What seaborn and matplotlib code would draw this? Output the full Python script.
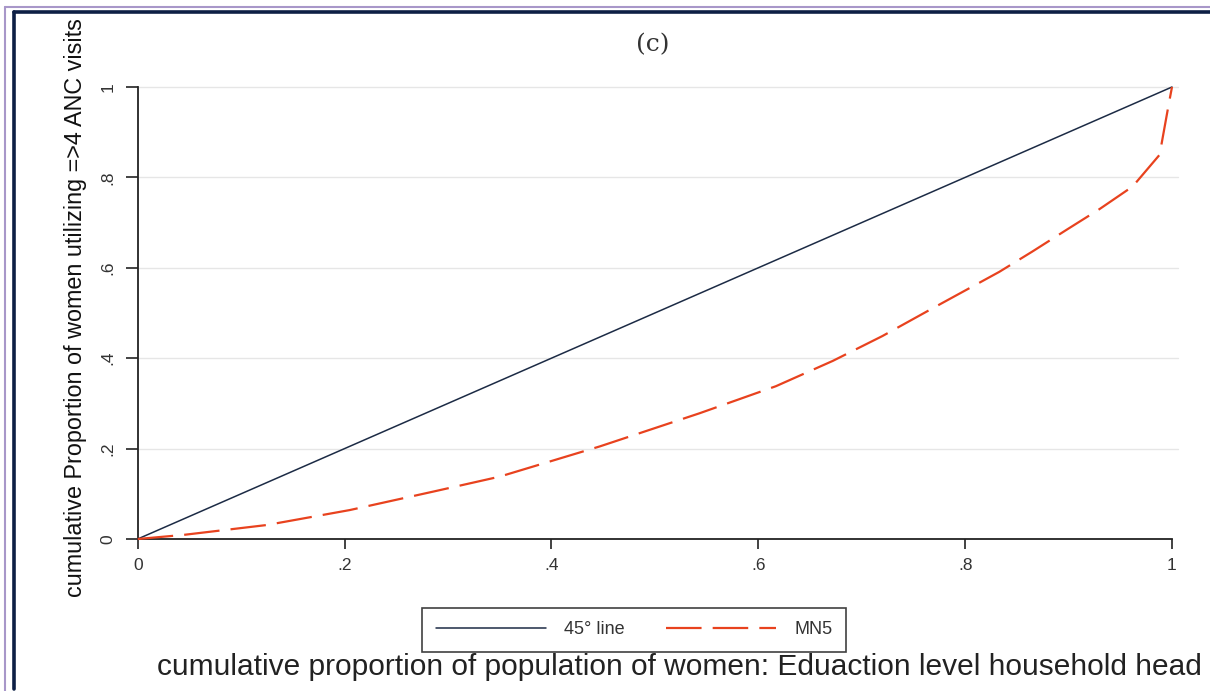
import numpy as np
import pandas as pd
import matplotlib
matplotlib.use("Agg")
import matplotlib.pyplot as plt
from matplotlib.lines import Line2D
import seaborn as sns

# Concentration curve data
pop_share = [0, 0.044, 0.125, 0.205, 0.286, 0.35, 0.447, 0.543, 0.617, 0.672,
             0.72, 0.769, 0.801, 0.833, 0.865, 0.898, 0.93, 0.962, 0.988, 0.997, 1.0]
mn5_share = [0, 0.009, 0.031, 0.064, 0.105, 0.138, 0.205, 0.278, 0.338, 0.394,
             0.449, 0.511, 0.551, 0.591, 0.636, 0.684, 0.73, 0.78, 0.85, 0.964, 1.0]
equality_x = [0, 1]
equality_y = [0, 1]

tick_vals = [0, 0.2, 0.4, 0.6, 0.8, 1]
tick_labels = ["0", ".2", ".4", ".6", ".8", "1"]

series_names = ["45° line", "MN5"]
title = "(c)"
xlabel = "cumulative proportion of population of women: Eduaction level household head"
ylabel = "cumulative Proportion of women utilizing =>4 ANC visits"

sns.set_style("white")
plt.rcParams["font.family"] = ["Liberation Sans", "DejaVu Sans"]

fig = plt.figure(figsize=(12.1, 6.91), dpi=100)
W, H = 1210, 691
ax = fig.add_axes([137.7 / W, 1 - 539 / H, (1172 - 137.7) / W, (539 - 87) / H])

navy = "#1c2b45"
red = "#e8421e"

eq_df = pd.DataFrame({"x": equality_x, "y": equality_y})
mn_df = pd.DataFrame({"x": pop_share, "y": mn5_share})

sns.lineplot(data=eq_df, x="x", y="y", ax=ax, color=navy, linewidth=1.1,
             label=series_names[0], clip_on=False, zorder=3)
sns.lineplot(data=mn_df, x="x", y="y", ax=ax, color=red, linewidth=1.6,
             label=series_names[1], clip_on=False, zorder=3,
             dashes=False)
ax.lines[1].set_dashes([16, 5])

ax.set_xlim(0, 1)
ax.set_ylim(0, 1)
ax.set_xticks(tick_vals)
ax.set_xticklabels(tick_labels)
ax.set_yticks(tick_vals)
ax.set_yticklabels(tick_labels, rotation=90, va="center")

for tl in ax.get_xticklabels() + ax.get_yticklabels():
    tl.set_fontsize(12.5)
    tl.set_color("#333333")

ax.tick_params(axis="x", direction="out", length=7, width=1.2, color="#222222", pad=7)
ax.tick_params(axis="y", direction="out", length=9, width=1.2, color="#222222", pad=7)
ax.tick_params(bottom=True, left=True)

for side in ["top", "right"]:
    ax.spines[side].set_visible(False)
for side in ["left", "bottom"]:
    ax.spines[side].set_color("#222222")
    ax.spines[side].set_linewidth(1.3)

# light horizontal grid lines at the y ticks
for v in tick_vals[1:]:
    ax.axhline(v, xmin=0, xmax=1.006, color="#e6e6e6", linewidth=1.0, zorder=1, clip_on=False)

ax.set_xlabel("")
ax.set_ylabel("")

fig.text(653 / W, 1 - 45 / H, title, fontsize=18, family=["DejaVu Serif"],
         color="#333333", ha="center", va="center")

fig.text(679 / W, 1 - 667 / H, xlabel, fontsize=21.5, color="#222222",
         ha="center", va="center")

fig.text(76 / W, 1 - 308 / H, ylabel, fontsize=16.8, rotation=90,
         color="#111111", ha="center", va="center")

leg = ax.legend(loc="center", bbox_to_anchor=((634 - 137.7) / (1172 - 137.7),
                                              (539 - 630) / (539 - 87)),
                ncol=2, frameon=True, fancybox=False, handlelength=6.1,
                columnspacing=2.3, handletextpad=1.0, fontsize=13,
                borderpad=0.75)
leg.get_frame().set_edgecolor("#111111")
leg.get_frame().set_linewidth(1.2)
for t in leg.get_texts():
    t.set_color("#333333")

# page frame lines
fig.add_artist(Line2D([5 / W, 5 / W], [0, 1 - 7 / H], color="#a897c9", linewidth=1.5,
                      transform=fig.transFigure))
fig.add_artist(Line2D([5 / W, 1], [1 - 7 / H, 1 - 7 / H], color="#a897c9", linewidth=1.5,
                      transform=fig.transFigure))
fig.add_artist(Line2D([13.5 / W, 13.5 / W], [2 / H, 1 - 12 / H], color="#0d1f45", linewidth=2.6,
                      transform=fig.transFigure))
fig.add_artist(Line2D([13.5 / W, 1], [1 - 12 / H, 1 - 12 / H], color="#0d1f45", linewidth=2.6,
                      transform=fig.transFigure))

fig.savefig("out.png", dpi=100)
